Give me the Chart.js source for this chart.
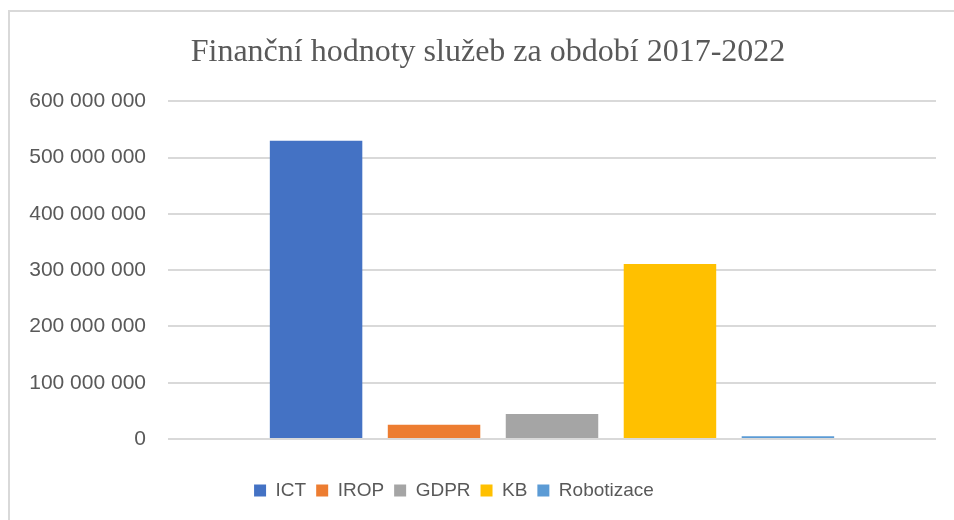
<!DOCTYPE html>
<html>
<head>
<meta charset="utf-8">
<script src="https://cdn.jsdelivr.net/npm/chart.js@4"></script>
<style>
    html, body { margin: 0; padding: 0; background: #fff; }
    #wrap { position: relative; width: 954px; height: 520px; overflow: hidden; }
    #frame {
        position: absolute; left: 8px; top: 10px; width: 960px; height: 520px;
        border-top: 2px solid #d9d9d9; border-left: 2px solid #d9d9d9;
    }
    canvas { position: absolute; left: 0; top: 0; }
</style>
</head>
<body>
<div id="wrap">
    <div id="frame"></div>
    <canvas id="chart" width="954" height="520"></canvas>
</div>
<script>
/* ================= DATA ================= */
const TITLE = "Finanční hodnoty služeb za období 2017-2022";
const CATEGORIES = [""];
const SERIES_NAMES = ["ICT", "IROP", "GDPR", "KB", "Robotizace"];
const SERIES_VALUES = [530000000, 25500000, 44500000, 311000000, 5000000];
const SERIES_COLORS = ["#4472c4", "#ed7d31", "#a5a5a5", "#ffc000", "#5b9bd5"];

/* ================= HELPERS ================= */
function formatSpaced(v) {
    return String(v).replace(/\B(?=(\d{3})+(?!\d))/g, " ");
}

// the original frame runs past the right edge, so title/legend are nudged
const nudgeBlocks = {
    id: "nudgeBlocks",
    afterLayout(chart) {
        if (chart.titleBlock) chart.titleBlock.left = 40;
        if (chart.legend) chart.legend.right -= 36;
    }
};

/* ================= CHART ================= */
const datasets = SERIES_NAMES.map((name, i) => ({
    label: name,
    data: [SERIES_VALUES[i]],
    backgroundColor: SERIES_COLORS[i],
    borderWidth: 0,
    categoryPercentage: 0.768,
    barPercentage: 0.784
}));

new Chart(document.getElementById("chart"), {
    type: "bar",
    data: { labels: CATEGORIES, datasets },
    plugins: [nudgeBlocks],
    options: {
        responsive: false,
        animation: false,
        layout: { padding: { left: 8, right: 18, top: 0, bottom: 10 } },
        plugins: {
            title: {
                display: true,
                text: TITLE,
                color: "#595959",
                font: { family: "'Liberation Serif', 'Times New Roman', serif", size: 32, weight: "normal" },
                padding: { top: 33, bottom: 30 }
            },
            legend: {
                position: "bottom",
                labels: {
                    color: "#595959",
                    font: { family: "'Liberation Sans', Arial, sans-serif", size: 19 },
                    boxWidth: 12,
                    boxHeight: 12,
                    padding: 10
                }
            },
            tooltip: { enabled: false }
        },
        scales: {
            x: {
                display: true,
                border: { display: false },
                grid: { display: false },
                ticks: { display: false },
                afterFit: s => { s.height = 32; }
            },
            y: {
                min: 0,
                max: 600000000,
                border: { display: false },
                grid: { color: "#d9d9d9", lineWidth: 2, drawTicks: false },
                ticks: {
                    stepSize: 100000000,
                    padding: 22,
                    color: "#595959",
                    font: { family: "'Liberation Sans', Arial, sans-serif", size: 21 },
                    callback: v => formatSpaced(v)
                },
                afterFit: s => { s.width = 160; }
            }
        }
    }
});
</script>
</body>
</html>
